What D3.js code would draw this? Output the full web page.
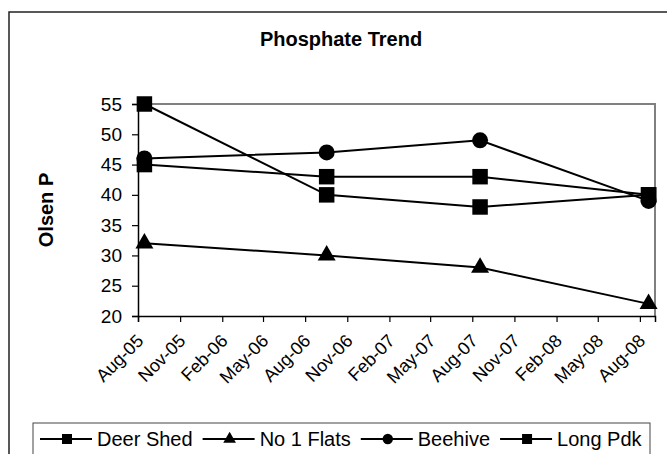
<!DOCTYPE html>
<html>
<head>
<meta charset="utf-8">
<script src="https://cdn.jsdelivr.net/npm/d3@7"></script>
<style>
body { margin: 0; background: #fff; }
text { font-family: "Liberation Sans", Arial, sans-serif; fill: #000; }
</style>
</head>
<body>
<div id="svg-container"></div>
<script>
// sample dates and the four sites
var dates = ["2005-08-15", "2006-09-17", "2007-08-18", "2008-08-20"];
var deerShed = [45, 43, 43, 40];
var no1Flats = [32, 30, 28, 22];
var beehive = [46, 47, 49, 39];
var longPdk = [55, 40, 38, 40];
var seriesNames = ["Deer Shed", "No 1 Flats", "Beehive", "Long Pdk"];
var seriesMarks = ["square", "triangle", "circle", "square"];
var tickDates = ["2005-08-01", "2005-11-01", "2006-02-01", "2006-05-01", "2006-08-01", "2006-11-01",
    "2007-02-01", "2007-05-01", "2007-08-01", "2007-11-01", "2008-02-01", "2008-05-01", "2008-08-01"];
var yTicks = [20, 25, 30, 35, 40, 45, 50, 55];

var parse = d3.timeParse("%Y-%m-%d");
var allSeries = [deerShed, no1Flats, beehive, longPdk].map(function(vals, i) {
    return {
        name: seriesNames[i],
        mark: seriesMarks[i],
        points: vals.map(function(v, j) { return {date: parse(dates[j]), value: v}; })
    };
});

var width = 667, height = 454;
var plotLeft = 138, plotRight = 655, plotTop = 104, plotBottom = 316;

var svg = d3.select("#svg-container").append("svg")
    .attr("width", width)
    .attr("height", height);

// outer chart frame
svg.append("rect")
    .attr("x", 9).attr("y", 12)
    .attr("width", 700).attr("height", 500)
    .attr("fill", "none")
    .attr("stroke", "#222")
    .attr("stroke-width", 1.5);

var x = d3.scaleTime()
    .domain([parse("2005-08-01"), parse("2008-09-03")])
    .range([plotLeft, plotRight]);
var y = d3.scaleLinear()
    .domain([20, 55])
    .range([plotBottom, plotTop]);

// grey plot border (top & right)
svg.append("path")
    .attr("d", "M" + plotLeft + "," + plotTop + "H" + plotRight + "V" + plotBottom)
    .attr("fill", "none")
    .attr("stroke", "#808080")
    .attr("stroke-width", 2);

var yAxis = svg.append("g")
    .attr("transform", "translate(" + plotLeft + ",0)")
    .call(d3.axisLeft(y).tickValues(yTicks).tickSize(6).tickPadding(10));
yAxis.selectAll("text").style("font-size", "19px");

var xAxis = svg.append("g")
    .attr("transform", "translate(0," + plotBottom + ")")
    .call(d3.axisBottom(x).tickValues(tickDates.map(parse)).tickSize(6).tickFormat(d3.timeFormat("%b-%y")));
xAxis.selectAll("text")
    .style("font-size", "18px")
    .attr("text-anchor", "end")
    .attr("y", 0).attr("dy", 0)
    .attr("transform", "translate(6,26) rotate(-45)");

svg.selectAll(".domain").attr("stroke", "#000").attr("stroke-width", 1.5);
svg.selectAll(".tick line").attr("stroke", "#000").attr("stroke-width", 1.2);

var symbolType = {square: d3.symbolSquare, triangle: d3.symbolTriangle, circle: d3.symbolCircle};
var symbolSize = {square: 240, triangle: 140, circle: 200};

var line = d3.line()
    .x(function(d) { return x(d.date); })
    .y(function(d) { return y(d.value); });

allSeries.forEach(function(s) {
    var g = svg.append("g");
    g.append("path")
        .datum(s.points)
        .attr("d", line)
        .attr("fill", "none")
        .attr("stroke", "#000")
        .attr("stroke-width", 2);
    g.selectAll(".mark")
        .data(s.points)
        .enter().append("path")
        .attr("class", "mark")
        .attr("d", d3.symbol().type(symbolType[s.mark]).size(symbolSize[s.mark]))
        .attr("transform", function(d) { return "translate(" + x(d.date) + "," + y(d.value) + ")"; })
        .attr("fill", "#000");
});

// titles
svg.append("text")
    .attr("x", 341).attr("y", 46)
    .attr("text-anchor", "middle")
    .style("font-size", "20px")
    .style("font-weight", "bold")
    .text("Phosphate Trend");

svg.append("text")
    .attr("transform", "translate(53,210) rotate(-90)")
    .attr("text-anchor", "middle")
    .style("font-size", "20px")
    .style("font-weight", "bold")
    .text("Olsen P");

// legend
svg.append("rect")
    .attr("x", 33).attr("y", 423)
    .attr("width", 617).attr("height", 50)
    .attr("fill", "none")
    .attr("stroke", "#444")
    .attr("stroke-width", 1);

var legendSize = {square: 100, triangle: 70, circle: 85};
var lx = 40;
allSeries.forEach(function(s) {
    var g = svg.append("g").attr("transform", "translate(" + lx + ",439)");
    g.append("line")
        .attr("x1", 0).attr("x2", 52)
        .attr("stroke", "#000").attr("stroke-width", 2);
    g.append("path")
        .attr("d", d3.symbol().type(symbolType[s.mark]).size(legendSize[s.mark]))
        .attr("transform", "translate(27,0)")
        .attr("fill", "#000");
    var t = g.append("text")
        .attr("x", 57).attr("y", 7)
        .style("font-size", "20px")
        .text(s.name);
    lx += 57 + t.node().getComputedTextLength() + 10;
});
</script>
</body>
</html>
